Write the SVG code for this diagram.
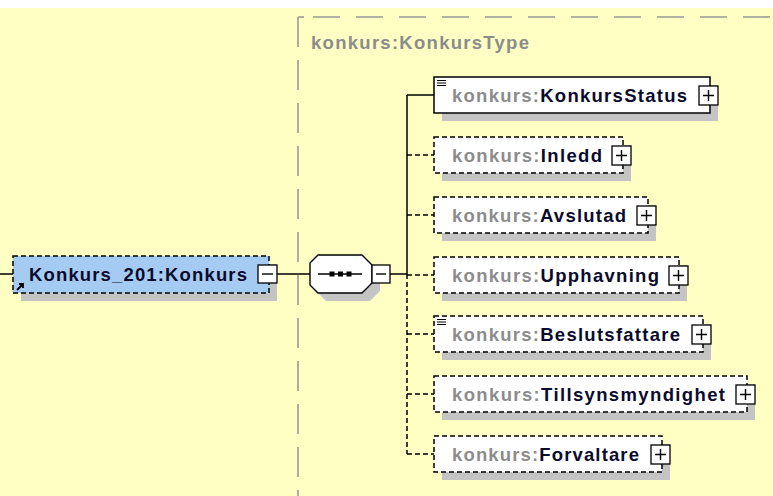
<svg xmlns="http://www.w3.org/2000/svg" width="773" height="496" viewBox="0 0 773 496">
<defs>
<style>
.bg{fill:#FFFFC4}
.tb{fill:none;stroke:#999;stroke-width:1.6}
.shadow{fill:#c4c4c4}
.box{fill:#fff;stroke:#000;stroke-width:1.5}
.opt{stroke-dasharray:5 3}
.main{fill:#A6CBF2}
.btn{fill:#fff;stroke:#000;stroke-width:1.3}
.glyph{stroke:#000;stroke-width:1.4;fill:none}
.ln{stroke:#000;stroke-width:1.5;fill:none}
.dash{stroke-dasharray:5 3}
.t{font-family:"Liberation Sans",Arial,sans-serif;font-weight:bold;font-size:18.5px}
.pre{fill:#8c8c8c}
.nm{fill:#0b0b2e}
.icon{stroke:#000;stroke-width:1.2}
</style>
</defs>
<rect x="0" y="0" width="773" height="496" fill="#fff"/>
<rect class="bg" x="0" y="8" width="773" height="488"/>
<g id="type-box">
<line class="tb" x1="298" y1="17" x2="298" y2="496" stroke-dasharray="30 13"/>
<line class="tb" x1="298" y1="17" x2="304" y2="17"/>
<line class="tb" x1="313" y1="17" x2="773" y2="17" stroke-dasharray="27 16"/>
<text class="t pre" x="311" y="49" textLength="218" lengthAdjust="spacing">konkurs:KonkursType</text>
</g>
<g id="connectors">
<line class="ln" x1="0" y1="274" x2="13" y2="274"/>
<line class="ln" x1="277" y1="274" x2="310" y2="274"/>
<line class="ln" x1="390" y1="274" x2="407" y2="274"/>
<line class="ln" x1="407" y1="95" x2="407" y2="274"/>
<line class="ln dash" x1="407" y1="274" x2="407" y2="454"/>
<line class="ln" x1="407" y1="95" x2="434" y2="95"/>
<line class="ln dash" x1="407" y1="155" x2="434" y2="155"/>
<line class="ln dash" x1="407" y1="215" x2="434" y2="215"/>
<line class="ln dash" x1="407" y1="275" x2="434" y2="275"/>
<line class="ln dash" x1="407" y1="334" x2="434" y2="334"/>
<line class="ln dash" x1="407" y1="394" x2="434" y2="394"/>
<line class="ln dash" x1="407" y1="454" x2="434" y2="454"/>
</g>
<g id="node-konkurs">
<rect class="shadow" x="21" y="264" width="256" height="37"/>
<rect class="box main opt" x="13" y="256" width="256" height="37"/>
<text class="t nm" x="29" y="281" textLength="218" lengthAdjust="spacing">Konkurs_201:Konkurs</text>
<path d="M17,290 L23,284 M19,284 H23 V288" stroke="#000" stroke-width="1.8" fill="none"/>
<rect class="btn" x="258" y="265" width="19" height="18"/>
<line class="glyph" x1="262" y1="274" x2="273" y2="274"/>
</g>
<g id="node-sequence">
<polygon class="shadow" points="326,263 370,263 380,273 380,291 370,301 326,301 318,293 318,271"/>
<polygon points="318,255 362,255 372,265 372,283 362,293 318,293 310,285 310,263" fill="#fff" stroke="#000" stroke-width="1.4"/>
<line class="ln" x1="318" y1="274" x2="362" y2="274"/>
<rect x="329.5" y="271.5" width="5" height="5" fill="#000"/>
<rect x="338" y="271.5" width="5" height="5" fill="#000"/>
<rect x="346.5" y="271.5" width="5" height="5" fill="#000"/>
<rect class="btn" x="372" y="265" width="18" height="18"/>
<line class="glyph" x1="376" y1="274" x2="386" y2="274"/>
</g>
<g id="node-konkursstatus">
<rect class="shadow" x="442" y="85" width="276" height="36"/>
<rect class="box" x="434" y="77" width="276" height="36"/>
<path class="icon" d="M437,80.5 H446 M437,83 H446 M437,85.5 H446"/>
<text class="t" x="452" y="101.5" textLength="235" lengthAdjust="spacing"><tspan class="pre">konkurs:</tspan><tspan class="nm">KonkursStatus</tspan></text>
<rect class="btn" x="699" y="86" width="19" height="19"/>
<path class="glyph" d="M703,95.5 H714 M708.5,90 V101"/>
</g>
<g id="node-inledd">
<rect class="shadow" x="442" y="145" width="189" height="36"/>
<rect class="box opt" x="434" y="137" width="189" height="36"/>
<text class="t" x="452" y="161.5" textLength="150" lengthAdjust="spacing"><tspan class="pre">konkurs:</tspan><tspan class="nm">Inledd</tspan></text>
<rect class="btn" x="612" y="146" width="19" height="19"/>
<path class="glyph" d="M616,155.5 H627 M621.5,150 V161"/>
</g>
<g id="node-avslutad">
<rect class="shadow" x="442" y="205" width="214" height="36"/>
<rect class="box opt" x="434" y="197" width="214" height="36"/>
<text class="t" x="452" y="221.5" textLength="174" lengthAdjust="spacing"><tspan class="pre">konkurs:</tspan><tspan class="nm">Avslutad</tspan></text>
<rect class="btn" x="637" y="206" width="19" height="19"/>
<path class="glyph" d="M641,215.5 H652 M646.5,210 V221"/>
</g>
<g id="node-upphavning">
<rect class="shadow" x="442" y="265" width="245" height="36"/>
<rect class="box opt" x="434" y="257" width="245" height="36"/>
<text class="t" x="452" y="281.5" textLength="207" lengthAdjust="spacing"><tspan class="pre">konkurs:</tspan><tspan class="nm">Upphavning</tspan></text>
<rect class="btn" x="669" y="266" width="19" height="19"/>
<path class="glyph" d="M673,275.5 H684 M678.5,270 V281"/>
</g>
<g id="node-beslutsfattare">
<rect class="shadow" x="442" y="324" width="269" height="36"/>
<rect class="box opt" x="434" y="316" width="269" height="36"/>
<path class="icon" d="M437,319.5 H446 M437,322 H446 M437,324.5 H446"/>
<text class="t" x="452" y="340.5" textLength="228" lengthAdjust="spacing"><tspan class="pre">konkurs:</tspan><tspan class="nm">Beslutsfattare</tspan></text>
<rect class="btn" x="692" y="325" width="19" height="19"/>
<path class="glyph" d="M696,334.5 H707 M701.5,329 V340"/>
</g>
<g id="node-tillsynsmyndighet">
<rect class="shadow" x="442" y="384" width="313" height="36"/>
<rect class="box opt" x="434" y="376" width="313" height="36"/>
<text class="t" x="452" y="400.5" textLength="273" lengthAdjust="spacing"><tspan class="pre">konkurs:</tspan><tspan class="nm">Tillsynsmyndighet</tspan></text>
<rect class="btn" x="736" y="385" width="19" height="19"/>
<path class="glyph" d="M740,394.5 H751 M745.5,389 V400"/>
</g>
<g id="node-forvaltare">
<rect class="shadow" x="442" y="444" width="228" height="36"/>
<rect class="box opt" x="434" y="436" width="228" height="36"/>
<text class="t" x="452" y="460.5" textLength="187" lengthAdjust="spacing"><tspan class="pre">konkurs:</tspan><tspan class="nm">Forvaltare</tspan></text>
<rect class="btn" x="651" y="445" width="19" height="19"/>
<path class="glyph" d="M655,454.5 H666 M660.5,449 V460"/>
</g>
</svg>
